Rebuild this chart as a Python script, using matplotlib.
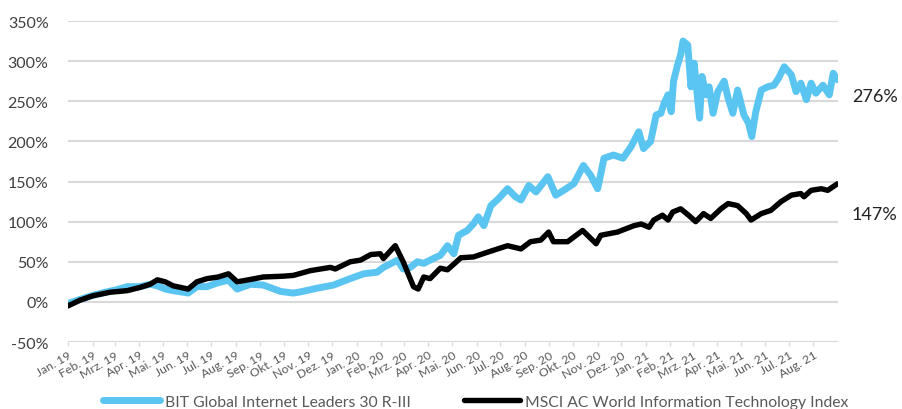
import numpy as np
import pandas as pd
import matplotlib
matplotlib.use("Agg")
import matplotlib.pyplot as plt
import matplotlib.dates as mdates
import matplotlib.transforms as mtransforms

plt.rcParams['font.family'] = ['Lato', 'DejaVu Sans']

# BIT Global Internet Leaders 30 R-III, performance in %
bit_dates = [
    "2019-01-01", "2019-01-16", "2019-02-01", "2019-02-17", "2019-03-03", "2019-03-17",
    "2019-04-02", "2019-04-15", "2019-04-24", "2019-05-04", "2019-05-14", "2019-06-02",
    "2019-06-13", "2019-06-26", "2019-07-10", "2019-07-23", "2019-08-03", "2019-08-20",
    "2019-09-05", "2019-09-27", "2019-10-13", "2019-10-22", "2019-11-12", "2019-12-03",
    "2019-12-24", "2020-01-10", "2020-01-27", "2020-02-04", "2020-02-22", "2020-02-29",
    "2020-03-09", "2020-03-18", "2020-03-26", "2020-04-07", "2020-04-16", "2020-04-25",
    "2020-05-03", "2020-05-09", "2020-05-20", "2020-05-28", "2020-06-03", "2020-06-10",
    "2020-06-19", "2020-06-29", "2020-07-10", "2020-07-20", "2020-07-27", "2020-08-06",
    "2020-08-15", "2020-08-30", "2020-09-09", "2020-09-19", "2020-10-02", "2020-10-14",
    "2020-10-23", "2020-11-01", "2020-11-09", "2020-11-21", "2020-12-03", "2020-12-13",
    "2020-12-23", "2020-12-29", "2021-01-07", "2021-01-14", "2021-01-20", "2021-01-24",
    "2021-01-29", "2021-02-02", "2021-02-05", "2021-02-10", "2021-02-14", "2021-02-17",
    "2021-02-23", "2021-02-27", "2021-03-03", "2021-03-08", "2021-03-10", "2021-03-13",
    "2021-03-18", "2021-03-22", "2021-03-27", "2021-04-02", "2021-04-10", "2021-04-15",
    "2021-04-21", "2021-04-27", "2021-05-05", "2021-05-11", "2021-05-15", "2021-05-20",
    "2021-05-27", "2021-06-04", "2021-06-12", "2021-06-18", "2021-06-25", "2021-07-04",
    "2021-07-10", "2021-07-16", "2021-07-23", "2021-07-29", "2021-08-04", "2021-08-13",
    "2021-08-21", "2021-08-26", "2021-08-31",
]
bit_values = [
    -2, 3, 8, 12, 15, 19,
    19, 22, 20, 16, 14, 11,
    19, 19, 24, 27, 16, 22,
    21, 13, 11, 12.5, 17, 21,
    29, 35, 37, 43, 52, 41,
    43, 50, 48, 54, 58, 70,
    60, 83, 89, 97.5, 106, 95,
    120, 129, 141, 131, 127, 145,
    137, 156, 133, 139, 147.5, 170,
    158, 141, 179, 183, 179, 193,
    212, 191, 200, 233, 235, 247.5,
    258, 237, 275, 295, 308, 325,
    320, 268, 297.5, 247.5, 229, 281,
    258, 268, 235, 262, 275, 254,
    235, 264, 233, 222.5, 206, 237,
    264, 268, 270, 279, 293, 283,
    262, 272.5, 252, 272.5, 260, 270,
    258, 285, 277,
]

# MSCI AC World Information Technology Index, performance in %
msci_dates = [
    "2019-01-01", "2019-01-16", "2019-02-01", "2019-02-23", "2019-03-17", "2019-04-02",
    "2019-04-15", "2019-04-24", "2019-05-04", "2019-05-14", "2019-06-02", "2019-06-13",
    "2019-06-26", "2019-07-10", "2019-07-23", "2019-08-03", "2019-08-20", "2019-09-05",
    "2019-09-30", "2019-10-13", "2019-11-04", "2019-11-29", "2019-12-05", "2019-12-24",
    "2020-01-06", "2020-01-19", "2020-01-31", "2020-02-04", "2020-02-16", "2020-02-19",
    "2020-02-29", "2020-03-13", "2020-03-19", "2020-03-26", "2020-04-03", "2020-04-11",
    "2020-04-16", "2020-04-25", "2020-05-03", "2020-05-12", "2020-05-28", "2020-06-15",
    "2020-07-10", "2020-07-27", "2020-08-08", "2020-08-21", "2020-08-31", "2020-09-06",
    "2020-09-24", "2020-10-13", "2020-10-30", "2020-11-05", "2020-11-26", "2020-12-17",
    "2020-12-26", "2021-01-05", "2021-01-11", "2021-01-22", "2021-01-29", "2021-02-04",
    "2021-02-14", "2021-02-24", "2021-03-05", "2021-03-15", "2021-03-24", "2021-04-06",
    "2021-04-15", "2021-04-27", "2021-05-08", "2021-05-14", "2021-05-27", "2021-06-08",
    "2021-06-21", "2021-07-04", "2021-07-16", "2021-07-20", "2021-07-29", "2021-08-11",
    "2021-08-19", "2021-08-31",
]
msci_values = [
    -5, 2, 7.5, 12, 14, 18,
    22, 27.5, 25, 20, 16, 25,
    29, 31, 35, 25, 28, 31,
    32, 33, 39, 43, 41, 50,
    52, 59, 60, 54, 67, 70,
    50, 19, 16, 31, 29, 37,
    42, 40, 47, 55, 56, 62,
    70, 66, 75, 77, 87, 75,
    75, 89, 72.5, 83, 87, 95,
    97, 93, 102, 108, 102, 112,
    116, 108, 100, 110, 104, 116,
    122.5, 120, 110, 102, 110, 114,
    125, 133, 135, 131, 139, 141,
    139, 147,
]

series_names = ["BIT Global Internet Leaders 30 R-III",
                "MSCI AC World Information Technology Index"]
end_labels = ["276%", "147%"]
end_label_pos = [257, 109]  # where the end labels sit (value axis)

month_names = ["Jan.", "Feb.", "Mrz.", "Apr.", "Mai.", "Jun.",
               "Jul.", "Aug.", "Sep.", "Okt.", "Nov.", "Dez."]
yticks = [-50, 0, 50, 100, 150, 200, 250, 300, 350]

bit = pd.Series(bit_values, index=pd.to_datetime(bit_dates))
msci = pd.Series(msci_values, index=pd.to_datetime(msci_dates))

fig = plt.figure(figsize=(9.03, 4.10), dpi=100)
ax = fig.add_axes([0.0753, 0.1634, 0.8527, 0.7829])

blue = '#5bc5f2'
ax.plot(bit.index, bit.values, color=blue, lw=5.0, solid_joinstyle='round',
        solid_capstyle='round', label=series_names[0], zorder=3)
ax.plot(msci.index, msci.values, color='black', lw=3.9, solid_joinstyle='round',
        solid_capstyle='round', label=series_names[1], zorder=4)

# axes and grid
ax.set_ylim(-50, 350)
ax.set_yticks(yticks)
ax.set_yticklabels([f"{t}%" for t in yticks])
ax.grid(axis='y', color='#d9d9d9', lw=1.5, zorder=0)
ax.set_axisbelow(True)
for s in ax.spines.values():
    s.set_visible(False)
ax.tick_params(axis='y', length=0, pad=14, labelsize=11.5, labelcolor='#404040')

start = pd.Timestamp("2019-01-01")
ax.set_xlim(start, pd.Timestamp("2021-09-01"))
months = pd.date_range("2019-01-01", "2021-08-01", freq="MS")
ax.set_xticks(months)
ax.set_xticklabels([f"{month_names[m.month - 1]} {m.strftime('%y')}" for m in months],
                   rotation=30, ha='right', rotation_mode='anchor')
ax.tick_params(axis='x', length=3, width=1, color='#d9d9d9', pad=2,
               labelsize=8.8, labelcolor='#595959')

# labels at the right end
trans = mtransforms.blended_transform_factory(ax.transAxes, ax.transData)
for txt, yv in zip(end_labels, end_label_pos):
    ax.text(1.018, yv, txt, transform=trans, ha='left', va='center',
            fontsize=13, color='#222222')

fig.legend(loc='center', bbox_to_anchor=(0.527, 0.018), ncol=2, frameon=False,
           fontsize=11.3, handlelength=3.6, columnspacing=3.4, handletextpad=0.3,
           labelcolor='#595959', borderpad=0)

fig.savefig("out.png", dpi=100)
